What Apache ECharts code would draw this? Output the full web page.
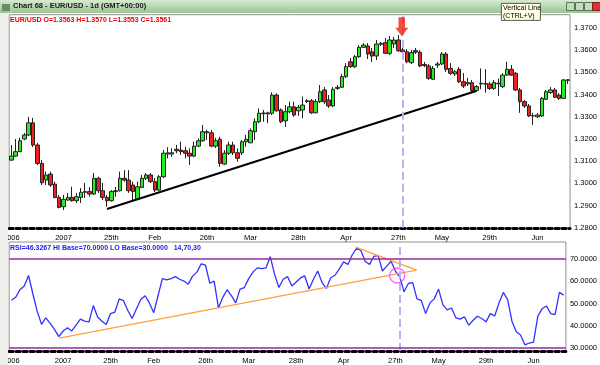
<!DOCTYPE html>
<html><head><meta charset="utf-8">
<script src="https://cdn.jsdelivr.net/npm/echarts@6/dist/echarts.min.js"></script>
<style>html,body{margin:0;padding:0;background:#fff;}#c{width:600px;height:365px;}</style>
</head><body><div id="c"></div>
<script>
// ---- data ----
// candles: [open, close, low, high]
const candles = [
[1.3105,1.3123,1.3101,1.3173],[1.3123,1.3143,1.3119,1.3200],[1.3143,1.3192,1.3141,1.3205],[1.3200,1.3218,1.3195,1.3227],
[1.3218,1.3273,1.3213,1.3300],[1.3273,1.3173,1.3164,1.3295],[1.3173,1.3090,1.3083,1.3182],[1.3090,1.3003,1.2993,1.3105],
[1.3015,1.3038,1.2993,1.3053],[1.3042,1.2993,1.2984,1.3053],[1.2997,1.2937,1.2933,1.3008],[1.2937,1.2892,1.2888,1.2948],
[1.2895,1.2928,1.2880,1.2948],[1.2925,1.2937,1.2922,1.2957],[1.2937,1.2922,1.2918,1.2985],[1.2922,1.2940,1.2912,1.2957],
[1.2937,1.2960,1.2912,1.2979],[1.2960,1.2963,1.2934,1.3002],[1.2963,1.2952,1.2940,1.2984],[1.2952,1.3023,1.2948,1.3047],
[1.3023,1.2967,1.2957,1.3030],[1.2967,1.2937,1.2925,1.3003],[1.2937,1.2922,1.2895,1.2948],[1.2922,1.2963,1.2918,1.2970],
[1.2963,1.2967,1.2940,1.2984],[1.2967,1.3023,1.2963,1.3053],[1.3023,1.3015,1.3008,1.3060],[1.3015,1.2967,1.2957,1.3060],
[1.2993,1.2963,1.2925,1.3008],[1.2928,1.2985,1.2925,1.3008],[1.2982,1.3023,1.2979,1.3038],[1.3023,1.3038,1.3015,1.3047],
[1.3038,1.3008,1.3002,1.3047],[1.3008,1.2970,1.2961,1.3024],[1.2970,1.3030,1.2966,1.3038],[1.3030,1.3136,1.3024,1.3150],
[1.3132,1.3138,1.3113,1.3163],[1.3132,1.3138,1.3120,1.3158],[1.3154,1.3147,1.3136,1.3173],[1.3150,1.3143,1.3128,1.3188],
[1.3147,1.3136,1.3113,1.3165],[1.3136,1.3123,1.3083,1.3158],[1.3123,1.3168,1.3118,1.3188],[1.3168,1.3192,1.3163,1.3203],
[1.3192,1.3233,1.3188,1.3263],[1.3233,1.3228,1.3195,1.3241],[1.3228,1.3168,1.3163,1.3241],[1.3168,1.3192,1.3159,1.3205],
[1.3199,1.3090,1.3075,1.3210],[1.3087,1.3136,1.3083,1.3150],[1.3136,1.3173,1.3128,1.3188],[1.3173,1.3138,1.3128,1.3188],
[1.3138,1.3113,1.3098,1.3158],[1.3138,1.3188,1.3128,1.3195],[1.3188,1.3199,1.3165,1.3218],[1.3183,1.3237,1.3181,1.3248],
[1.3233,1.3278,1.3195,1.3293],[1.3278,1.3316,1.3271,1.3338],[1.3314,1.3317,1.3278,1.3331],[1.3313,1.3318,1.3271,1.3323],
[1.3316,1.3398,1.3308,1.3410],[1.3398,1.3327,1.3323,1.3406],[1.3331,1.3278,1.3271,1.3338],[1.3282,1.3323,1.3255,1.3353],
[1.3323,1.3345,1.3316,1.3368],[1.3345,1.3308,1.3300,1.3368],[1.3327,1.3343,1.3304,1.3353],[1.3331,1.3353,1.3293,1.3391],
[1.3369,1.3372,1.3362,1.3380],[1.3372,1.3318,1.3313,1.3380],[1.3318,1.3368,1.3316,1.3379],[1.3368,1.3413,1.3362,1.3443],
[1.3421,1.3368,1.3358,1.3434],[1.3376,1.3349,1.3340,1.3398],[1.3349,1.3424,1.3344,1.3434],[1.3428,1.3433,1.3421,1.3443],
[1.3433,1.3481,1.3430,1.3493],[1.3481,1.3526,1.3475,1.3542],[1.3548,1.3526,1.3520,1.3565],[1.3526,1.3571,1.3520,1.3578],
[1.3571,1.3613,1.3565,1.3623],[1.3613,1.3623,1.3610,1.3632],[1.3619,1.3583,1.3560,1.3632],[1.3593,1.3574,1.3547,1.3610],
[1.3574,1.3628,1.3556,1.3646],[1.3627,1.3631,1.3619,1.3637],[1.3634,1.3586,1.3583,1.3655],[1.3586,1.3646,1.3578,1.3664],
[1.3628,1.3646,1.3610,1.3659],[1.3646,1.3598,1.3592,1.3668],[1.3601,1.3593,1.3587,1.3610],[1.3593,1.3548,1.3542,1.3605],
[1.3544,1.3589,1.3538,1.3601],[1.3598,1.3591,1.3583,1.3610],[1.3591,1.3529,1.3524,1.3601],[1.3536,1.3531,1.3524,1.3547],
[1.3529,1.3473,1.3466,1.3538],[1.3469,1.3518,1.3466,1.3529],[1.3533,1.3538,1.3520,1.3547],[1.3538,1.3583,1.3533,1.3592],
[1.3583,1.3514,1.3502,1.3592],[1.3518,1.3496,1.3488,1.3542],[1.3493,1.3503,1.3484,1.3511],[1.3514,1.3458,1.3452,1.3524],
[1.3458,1.3439,1.3430,1.3497],[1.3448,1.3454,1.3439,1.3475],[1.3454,1.3418,1.3412,1.3466],[1.3418,1.3436,1.3412,1.3443],
[1.3448,1.3451,1.3424,1.3518],[1.3448,1.3449,1.3409,1.3515],[1.3448,1.3428,1.3421,1.3457],[1.3428,1.3454,1.3421,1.3466],
[1.3449,1.3451,1.3394,1.3473],[1.3436,1.3488,1.3430,1.3497],[1.3488,1.3514,1.3484,1.3548],[1.3514,1.3488,1.3484,1.3533],
[1.3496,1.3421,1.3416,1.3502],[1.3421,1.3368,1.3318,1.3430],[1.3368,1.3349,1.3340,1.3376],[1.3349,1.3304,1.3299,1.3358],
[1.3304,1.3305,1.3263,1.3318],[1.3300,1.3308,1.3295,1.3317],[1.3304,1.3383,1.3299,1.3389],[1.3379,1.3413,1.3376,1.3421],
[1.3409,1.3421,1.3403,1.3434],[1.3421,1.3388,1.3385,1.3430],[1.3398,1.3383,1.3376,1.3407],[1.3383,1.3466,1.3380,1.3470],
[1.3464,1.3467,1.3448,1.3470]
];
const rsi = [
51.5,52.8,56.2,57.9,62.6,54.3,46.5,40.7,43.6,41.1,
38.4,35.2,37.7,39.2,37.7,40.3,43.0,42.1,41.8,49.1,
44.0,42.1,40.6,45.5,46.2,52.1,51.3,46.9,43.3,47.7,
51.8,53.5,50.3,45.9,53.5,61.2,60.6,61.2,62.1,60.9,
60.1,58.7,62.3,64.1,67.8,67.2,59.1,60.1,48.0,52.8,
56.2,53.5,50.3,56.5,57.2,61.2,64.1,66.0,65.7,66.0,
71.1,63.1,57.2,60.9,62.1,57.9,59.7,61.5,62.4,56.5,
60.9,64.6,59.4,56.8,61.6,62.7,65.6,68.7,67.5,71.9,
74.8,73.8,69.0,67.5,71.2,71.5,64.6,66.8,69.0,64.6,
61.9,55.3,59.0,59.4,52.1,51.4,45.5,50.3,52.1,56.5,
49.4,47.2,48.0,43.6,43.0,44.0,40.3,42.5,44.3,43.3,
41.8,45.5,44.4,50.3,55.0,51.8,42.1,37.4,35.9,31.5,
32.3,32.7,44.4,47.7,48.9,45.5,45.0,55.0,53.8
];
const xTickLabels = ['2006','2007','25th','Feb','26th','Mar','28th','Apr','27th','May','29th','Jun'];
const xTickIndex  = [0,12,23,33,45,55,66,77,89,99,110,121];
const priceTicks = [1.28,1.29,1.30,1.31,1.32,1.33,1.34,1.35,1.36,1.37];
const rsiTicks = [30,40,50,60,70];
const lastPrice = 1.3561;
const rsiHi = 70, rsiLo = 30;
const markerIndex = 90;             // vertical line bar
const priceTrend = [[22,1.2885],[106.9,1.3416]];
const rsiTrendLow = [[11.1,34.5],[93.9,65.0]];
const rsiTrendHigh = [[79.8,75.3],[93.9,65.0]];
const rsiCircle = [[89.4,62.6]];
const arrowPoint = [[89.8,1.3706]];
const headerPrice = 'EUR/USD O=1.3563 H=1.3570 L=1.3553 C=1.3561';
const headerRsi = 'RSI=46.3267 HI Base=70.0000 LO Base=30.0000   14,70,30';
const windowTitle = 'Chart 68 - EUR/USD - 1d (GMT+00:00)';

// ---- chart ----
const N = candles.length;
const cats = candles.map((c,i)=>String(i));
const labelAt = {}; xTickIndex.forEach((k,i)=>labelAt[k]=xTickLabels[i]);
const FONT = 'Liberation Sans';
const chart = echarts.init(document.getElementById('c'), null, {renderer:'canvas'});
const L = 8.5, W = 563.7;
function catAxis(gi){
  return {type:'category', gridIndex:gi, data:cats, boundaryGap:true,
    axisLine:{show:true, lineStyle:{color:'#000', width:3, type:[4,3]}},
    axisTick:{show:false}, splitLine:{show:false},
    axisLabel:{interval:(i)=>labelAt[i]!==undefined, formatter:(v,i)=>labelAt[i]||'', color:'#000',
      fontFamily:FONT, fontSize:7.5, margin:6}};
}
function valX(gi){ return {type:'value', gridIndex:gi, min:-0.5, max:N-0.5, show:false}; }
const vLine = {silent:true, symbol:'none', animation:false, label:{show:false},
  data:[{xAxis:markerIndex}], lineStyle:{color:'#b4b4f4', width:2, type:[8,4]}};
chart.setOption({
  animation:false,
  backgroundColor:'#fff',
  grid:[
    {left:L, width:W, top:14.7, height:213.1, show:true, borderColor:'#909090', borderWidth:1, backgroundColor:'#fff'},
    {left:L, width:W, top:242, height:111, show:true, borderColor:'#909090', borderWidth:1, backgroundColor:'#fff'}
  ],
  xAxis:[catAxis(0), catAxis(1), valX(0), valX(1)],
  yAxis:[
    {type:'value', gridIndex:0, position:'right', min:1.28, max:1.376, scale:true,
      axisLine:{show:false}, axisTick:{show:false}, splitLine:{show:false},
      axisLabel:{customValues:priceTicks, formatter:v=>v.toFixed(4), color:'#000', fontFamily:FONT, fontSize:7.5, margin:4}},
    {type:'value', gridIndex:1, position:'right', min:28.72, max:77.62,
      axisLine:{show:false}, axisTick:{show:false}, splitLine:{show:false},
      axisLabel:{customValues:rsiTicks, formatter:v=>v.toFixed(4), color:'#000', fontFamily:FONT, fontSize:7.5, margin:4}}
  ],
  series:[
    {type:'line', xAxisIndex:2, yAxisIndex:0, data:[], markLine:vLine, z:1},
    {type:'line', xAxisIndex:3, yAxisIndex:1, data:[], markLine:vLine, z:1},
    {type:'candlestick', xAxisIndex:0, yAxisIndex:0, data:candles, barWidth:4, z:3,
      itemStyle:{color:'#22ee22', color0:'#ee2020', borderColor:'#222', borderColor0:'#222', borderWidth:1},
      markLine:{silent:true, symbol:'none', animation:false,
        data:[
          {yAxis:lastPrice, lineStyle:{opacity:0}, label:{show:true, position:'end', distance:1, formatter:lastPrice.toFixed(4),
            color:'#000', fontFamily:FONT, fontSize:7.5, backgroundColor:'#d4d4d4', padding:[1,1,0,1]}}
        ]}},
    {type:'line', xAxisIndex:2, yAxisIndex:0, data:priceTrend, symbol:'none', lineStyle:{color:'#000', width:2}, z:4},
    {type:'scatter', xAxisIndex:2, yAxisIndex:0, data:arrowPoint, symbol:'path://M3,0 L9,0 L9,10 L12,10 L6,18 L0,10 L3,10 Z',
      symbolSize:[13,19], itemStyle:{color:'#f02010'}, z:5},
    {type:'line', xAxisIndex:1, yAxisIndex:1, data:rsi, symbol:'none', lineStyle:{color:'#3232ff', width:1.3}, z:3,
      markLine:{silent:true, symbol:'none', animation:false, label:{show:false},
        data:[
          {yAxis:rsiHi, lineStyle:{color:'#9a2a9a', width:1.5, type:'solid'}},
          {yAxis:rsiLo, lineStyle:{color:'#9a2a9a', width:1.5, type:'solid'}}
        ]}},
    {type:'line', xAxisIndex:3, yAxisIndex:1, data:rsiTrendLow, symbol:'none', lineStyle:{color:'#ffa040', width:1.5}, z:4},
    {type:'line', xAxisIndex:3, yAxisIndex:1, data:rsiTrendHigh, symbol:'none', lineStyle:{color:'#ffa040', width:1.5}, z:4},
    {type:'scatter', xAxisIndex:3, yAxisIndex:1, data:rsiCircle, symbol:'circle', symbolSize:15, z:5,
      itemStyle:{color:'rgba(0,0,0,0)', borderColor:'#ff40ff', borderWidth:1.3}}
  ],
  graphic:[
    {type:'rect', left:0, top:0, shape:{width:600, height:13}, style:{fill:new echarts.graphic.LinearGradient(0,0,0,1,[{offset:0,color:'#d6ead0'},{offset:1,color:'#9cc494'}])}, z:10},
    {type:'rect', left:0, top:13, shape:{width:8, height:352}, style:{fill:'#eef0ec'}, z:10},
    {type:'rect', left:2, top:4, shape:{width:8, height:7}, style:{fill:'#6a8a6a'}, z:11},
    {type:'text', left:13, top:2, style:{text:windowTitle, fill:'#1a1a1a', font:'bold 7.5px '+FONT}, z:11},
    {type:'text', left:10, top:17, style:{text:headerPrice, fill:'#ee0000', font:'bold 7px '+FONT}, z:11},
    {type:'text', left:10, top:245, style:{text:headerRsi, fill:'#2222ee', font:'bold 7px '+FONT}, z:11},
    {type:'rect', left:566, top:2, shape:{width:8, height:8}, style:{fill:'#c8d8c0', stroke:'#557755'}, z:11},
    {type:'rect', left:575, top:2, shape:{width:8, height:8}, style:{fill:'#c8d8c0', stroke:'#557755'}, z:11},
    {type:'rect', left:584, top:2, shape:{width:8, height:8}, style:{fill:'#c8d8c0', stroke:'#557755'}, z:11},
    {type:'rect', left:592, top:2, shape:{width:8, height:8}, style:{fill:'#e03030', stroke:'#802020'}, z:11},
    {type:'rect', left:501, top:3, shape:{width:39, height:17}, style:{fill:'#ffffe1', stroke:'#333', lineWidth:0.8}, z:12},
    {type:'text', left:503, top:4, style:{text:'Vertical Line\n(CTRL+V)', fill:'#000', font:'7px '+FONT, lineHeight:8}, z:13}
  ]
});
</script></body></html>
